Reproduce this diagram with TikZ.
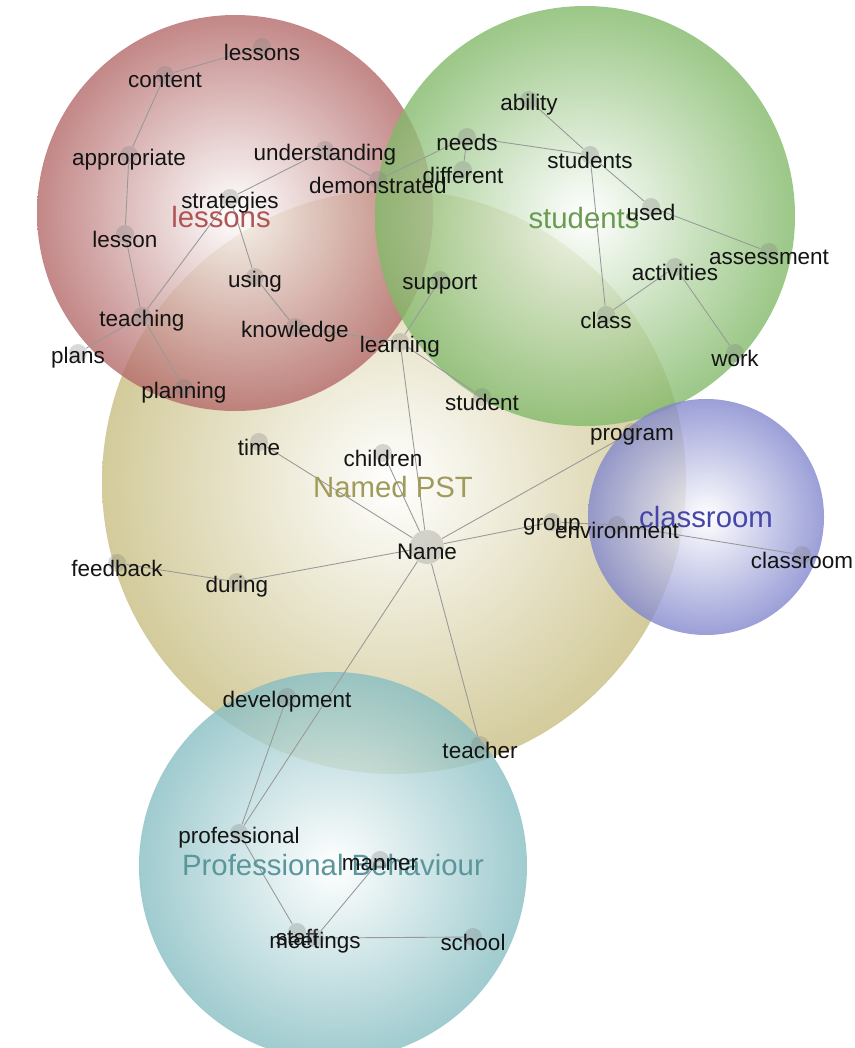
\documentclass[tikz,border=0pt]{standalone}
\usepackage{fontspec}
\setmainfont{Liberation Sans}
\usepackage{tikz}
\usetikzlibrary{calc}
\usetikzlibrary{backgrounds}
\usetikzlibrary{positioning}

\definecolor{lessred}{RGB}{180,105,105}
\definecolor{studgreen}{RGB}{130,185,105}
\definecolor{pstkhaki}{RGB}{200,190,130}
\definecolor{roomblue}{RGB}{130,135,205}
\definecolor{profteal}{RGB}{135,190,195}

\pgfdeclarelayer{bubbles}
\pgfdeclarelayer{links}
\pgfsetlayers{bubbles,links,main}

\tikzset{concept/.style={circle,fill=black!50,fill opacity=0.3,draw=none,minimum size=0.36cm,inner sep=0pt}}
\tikzset{bigconcept/.style={concept,minimum size=0.68cm}}
\tikzset{word/.style={font=\fontsize{12.8}{14}\selectfont,text=black!92,inner sep=1pt,yshift=-0.1cm}}
\tikzset{theme/.style={font=\fontsize{16.7}{18}\selectfont,inner sep=1pt}}
\tikzset{link/.style={draw=black!40,line width=0.5pt}}
\tikzset{bubble/.style={inner color=white,fill opacity=0.8}}

\begin{document}
\begin{tikzpicture}[x=0.02cm,y=-0.02cm]
\useasboundingbox (0,0) rectangle (855,1048);

% theme circles
\begin{pgfonlayer}{bubbles}
\shade[bubble,outer color=pstkhaki] (394,482) circle (292);
\shade[bubble,outer color=lessred] (235,213) circle (198);
\shade[bubble,outer color=studgreen] (585,216) circle (210);
\shade[bubble,outer color=roomblue] (706,517) circle (118);
\shade[bubble,outer color=profteal] (333,866) circle (194);
\end{pgfonlayer}

\node (thLessons) at (221,217) [theme,text={rgb,255:red,175;green,85;blue,85}] {lessons};
\node (thStudents) at (584,218) [theme,text={rgb,255:red,105;green,155;blue,80}] {students};
\node (thPST) at (393,487) [theme,text={rgb,255:red,160;green,155;blue,90}] {Named PST};
\node (thRoom) at (706,517) [theme,text={rgb,255:red,70;green,70;blue,170}] {classroom};
\node (thProf) at (333,865) [theme,text={rgb,255:red,90;green,150;blue,155}] {Professional Behaviour};

% concepts
\foreach \n/\x/\y/\t in {lessonsW/262/47/lessons, content/165/75/content,
	appropriate/129/155/appropriate, understanding/325/150/understanding,
	demonstrated/378/180/demonstrated, strategies/230/198/strategies,
	lesson/125/234/lesson, using/255/277/using, teaching/142/316/teaching,
	knowledge/295/327/knowledge, plans/78/353/plans, planning/184/388/planning,
	learning/400/342/learning, ability/529/100/ability, needs/467/137/needs,
	different/463/170/different, students/590/155/students, used/651/207/used,
	assessment/769/252/assessment, activities/675/267/activities,
	support/440/280/support, class/606/315/class, work/735/353/work,
	student/482/397/student, time/259/442/time, children/383/453/children,
	feedback/117/563/feedback, during/237/582/during,
	development/287/697/development, program/632/432/program,
	group/552/522/group, environment/617/525/environment,
	classroom/802/555/classroom, teacher/480/745/teacher,
	professional/239/833/professional, manner/380/860/manner,
	staff/297/932/staff, meetings/315/938/meetings, school/473/937/school} {
	\node (\n) at (\x,\y) [concept] {};
	\node (\n-w) at (\n) [word] {\t};
}
\node (Name) at (427,547) [bigconcept] {};
\node (Name-w) at (Name) [word] {Name};

% links
\begin{pgfonlayer}{links}
\foreach \i / \j in {lessonsW/content, content/appropriate, appropriate/lesson,
	lesson/teaching, teaching/plans, teaching/planning, teaching/strategies,
	strategies/understanding, understanding/demonstrated, demonstrated/needs,
	strategies/using, using/knowledge, knowledge/learning, learning/support,
	learning/student, learning/Name, needs/different, needs/students,
	ability/students, students/used, used/assessment, students/class,
	class/activities, activities/work, Name/time, Name/children, Name/during,
	during/feedback, Name/program, Name/group, group/environment,
	environment/classroom, Name/teacher, Name/professional,
	development/professional, professional/staff, manner/meetings,
	meetings/school} {
	\draw[link] (\i) -- (\j);
}
\end{pgfonlayer}

\end{tikzpicture}
\end{document}
